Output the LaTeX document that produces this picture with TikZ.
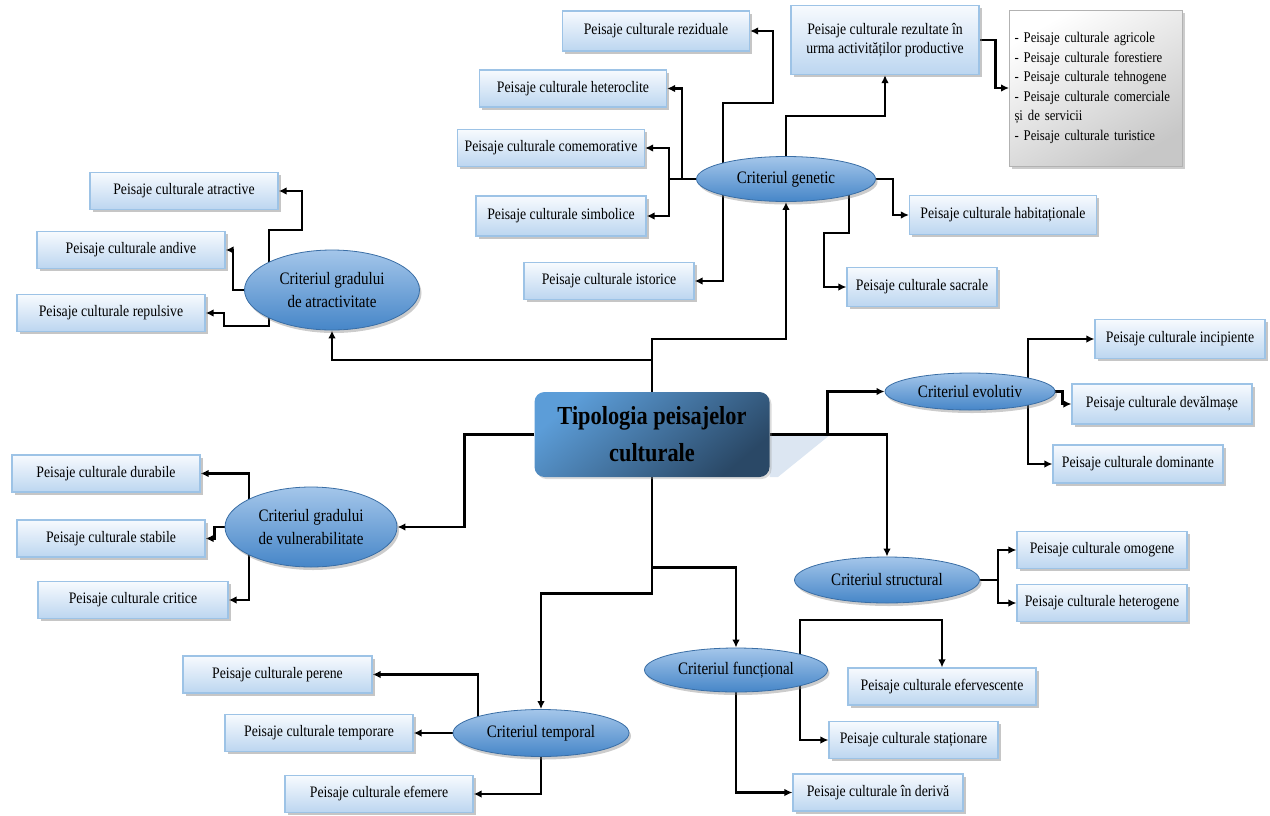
\documentclass[tikz,border=0pt]{standalone}
\usepackage{fontspec}
\setmainfont{Liberation Serif}[FakeStretch=0.86]
\usetikzlibrary{shapes.geometric}
\usetikzlibrary{arrows.meta}
\usetikzlibrary{shadows}
\usetikzlibrary{backgrounds}
\definecolor{leaftop}{HTML}{F7FAFE}
\definecolor{leafbot}{HTML}{BCD6F0}
\definecolor{leafline}{HTML}{9DC3E6}
\definecolor{critA}{HTML}{A4C6EA}
\definecolor{critM}{HTML}{5E9DD8}
\definecolor{critB}{HTML}{4686C8}
\definecolor{critline}{HTML}{3A6EA5}
\definecolor{cenA}{HTML}{5C9DD8}
\definecolor{cenB}{HTML}{2A4866}
\definecolor{glare}{HTML}{DCE6F2}
\newcommand{\leafh}{37pt}
\newcommand{\leaffont}{\fontsize{16}{19}\selectfont}
\newcommand{\critfont}{\fontsize{17.5}{23}\selectfont}

\tikzset{
  leaf/.style={rectangle, draw=leafline, line width=1.1pt, top color=leaftop, bottom color=leafbot,
    minimum height=\leafh, inner sep=0pt, font=\leaffont, align=center,
    drop shadow={shadow xshift=2.5pt, shadow yshift=-2.5pt, fill=black!50, opacity=.45}},
  crit/.style={ellipse, draw=critline, line width=.8pt, top color=critA, middle color=critM, bottom color=critB,
    inner sep=0pt, font=\critfont, align=center,
    drop shadow={shadow xshift=2pt, shadow yshift=-3pt, fill=black!50, opacity=.4}},
  centre/.style={rectangle, rounded corners=10pt, top color=cenA, bottom color=cenB, shading angle=40,
    minimum width=235pt, minimum height=85pt, align=center,
    font=\fontsize{26}{37}\selectfont\bfseries,
    drop shadow={shadow xshift=2pt, shadow yshift=-2pt, fill=black!40, opacity=.35}}
}

\begin{document}
\begin{tikzpicture}[x=1pt, y=-1pt]
\useasboundingbox (0,0) rectangle (1270,815);

\node[centre] (cen) at (652,434.5) {Tipologia peisajelor\\culturale};

% criterii
\begin{scope}[every node/.style={crit}]
  \node[minimum width=179pt, minimum height=45pt] (gen) at (786,179) {Criteriul genetic};
  \node[minimum width=175pt, minimum height=80pt] (atr) at (332,290) {Criteriul gradului\\de atractivitate};
  \node[minimum width=172pt, minimum height=80pt] (vul) at (311,527) {Criteriul gradului\\de vulnerabilitate};
  \node[minimum width=170pt, minimum height=37pt] (evo) at (970,391.5) {Criteriul evolutiv};
  \node[minimum width=185pt, minimum height=46pt] (str) at (887,580) {Criteriul structural};
  \node[minimum width=183pt, minimum height=44pt] (fun) at (736,670) {Criteriul funcțional};
  \node[minimum width=176pt, minimum height=47pt] (tem) at (541,733) {Criteriul temporal};
\end{scope}

% tipuri de peisaje
\begin{scope}[every node/.style={leaf}]
  \node[minimum width=187pt, minimum height=40pt] (rez) at (656,31) {Peisaje culturale reziduale};
  \node[minimum width=187pt] (hcl) at (573,88.5) {Peisaje culturale heteroclite};
  \node[minimum width=187pt] (com) at (551,148) {Peisaje culturale comemorative};
  \node[minimum width=170pt, minimum height=40pt] (sim) at (561,216) {Peisaje culturale simbolice};
  \node[minimum width=170pt] (ist) at (609,281) {Peisaje culturale istorice};
  \node[minimum width=188pt, minimum height=69pt] (res) at (885,40) {Peisaje culturale rezultate în\\urma activităților productive};
  \node[minimum width=187pt, minimum height=39pt] (hab) at (1003,215) {Peisaje culturale habitaționale};
  \node[minimum width=150pt, minimum height=39pt] (sac) at (922,287) {Peisaje culturale sacrale};
  \node[minimum width=188pt] (atv) at (184,191) {Peisaje culturale atractive};
  \node[minimum width=188pt] (and) at (131,250) {Peisaje culturale andive};
  \node[minimum width=188pt] (rep) at (111,313) {Peisaje culturale repulsive};
  \node[minimum width=188pt] (dur) at (106,473.5) {Peisaje culturale durabile};
  \node[minimum width=188pt] (stb) at (111,538.5) {Peisaje culturale stabile};
  \node[minimum width=190pt] (crt) at (133,600) {Peisaje culturale critice};
  \node[minimum width=170pt, minimum height=39pt] (inc) at (1180,339) {Peisaje culturale incipiente};
  \node[minimum width=180pt, minimum height=40pt] (dev) at (1162,404) {Peisaje culturale devălmașe};
  \node[minimum width=170pt, minimum height=38pt] (dom) at (1138,464) {Peisaje culturale dominante};
  \node[minimum width=170pt] (omg) at (1102,550) {Peisaje culturale omogene};
  \node[minimum width=170pt] (hgn) at (1102,603) {Peisaje culturale heterogene};
  \node[minimum width=188pt] (efv) at (942,686.5) {Peisaje culturale efervescente};
  \node[minimum width=169pt] (stn) at (913.5,740) {Peisaje culturale staționare};
  \node[minimum width=170pt] (drv) at (878,792.5) {Peisaje culturale în derivă};
  \node[minimum width=189pt] (per) at (277.5,674.5) {Peisaje culturale perene};
  \node[minimum width=188pt] (tmp) at (319,733) {Peisaje culturale temporare};
  \node[minimum width=188pt] (efm) at (379,794) {Peisaje culturale efemere};
\end{scope}

\node[rectangle, draw=black!30, line width=.8pt, top color=white, bottom color=black!22, shading angle=30,
  minimum width=173pt, minimum height=156pt, text width=163pt, inner sep=5pt, align=left,
  font=\fontsize{14.8}{19.6}\selectfont,
  drop shadow={shadow xshift=2.5pt, shadow yshift=-2.5pt, fill=black!50, opacity=.4}] (gry) at (1096,88)
  {- Peisaje culturale agricole\\- Peisaje culturale forestiere\\- Peisaje culturale tehnogene\\- Peisaje culturale comerciale\\și de servicii\\- Peisaje culturale turistice};

\begin{scope}[on background layer]
\begin{scope}[>={Latex[length=8pt,width=7.5pt]}, line width=2.6pt]
  \fill[glare] (cen.east) -- ++(62,-1) -- ([xshift=8pt]cen.south east) -- (cen.south east) -- cycle;

  % din centru
  \draw [->] (cen.north) -- ++(0,-53) -| (gen.south);
  \draw [->] (cen.north) -- ++(0,-32) -| (atr.south);
  \draw [->] (cen.west) -- ++(-70,0) |- (vul.east);
  \draw [->] (cen.east) -- ++(58,0) |- (evo.west);
  \draw [->] (cen.east) -| (str.north);
  \draw [->] (cen.south) -- ++(0,90) -| (fun.north);
  \draw [->] (cen.south) -- ++(0,116) -| (tem.north);

  % genetic
  \draw [->] (gen.west) -- ++(-27,0) |- (com.east);
  \draw [->] (gen.west) -- ++(-27,0) |- (sim.east);
  \draw [->] (gen.west) -- ++(-14,0) |- (hcl.east);
  \draw [->] (gen.center) ++(-63,0) |- ++(50,-76) |- (rez.east);
  \draw [->] (gen.center) ++(-63,0) |- (ist.east);
  \draw [->] (gen.center) -- ++(0,-63) -| (res.south);
  \draw [->] (res.east) -- ++(16,0) |- (gry.west);
  \draw [->] (gen.east) -- ++(17,0) |- (hab.west);
  \draw [->] (gen.center) ++(63,0) |- ++(-25,54) |- (sac.west);

  % atractivitate
  \draw [->] (atr.center) ++(-63,0) |- ++(33,-60) |- (atv.east);
  \draw [->] (atr.west) -- ++(-11,0) |- (and.east);
  \draw [->] (atr.center) ++(-63,0) |- ++(-45,36) |- (rep.east);

  % vulnerabilitate
  \draw [->] (vul.center) ++(-62,0) |- (dur.east);
  \draw [->] (vul.west) -- ++(-10,0) |- (stb.east);
  \draw [->] (vul.center) ++(-62,0) |- (crt.east);

  % evolutiv
  \draw [->] (evo.center) ++(58,0) |- (inc.west);
  \draw [->] (evo.east) -- ++(7,0) |- (dev.west);
  \draw [->] (evo.center) ++(58,0) |- (dom.west);

  % structural
  \draw [->] (str.east) -- ++(18,0) |- (omg.west);
  \draw [->] (str.east) -- ++(18,0) |- (hgn.west);

  % functional
  \draw [->] (fun.center) ++(64,0) |- ++(142,-50) -- (efv.north);
  \draw [->] (fun.center) ++(64,0) |- (stn.west);
  \draw [->] (fun.south) |- (drv.west);

  % temporal
  \draw [->] (tem.center) ++(-63,0) |- (per.east);
  \draw [->] (tem.west) -- (tmp.east);
  \draw [->] (tem.south) |- (efm.east);
\end{scope}
\end{scope}
\end{tikzpicture}
\end{document}
